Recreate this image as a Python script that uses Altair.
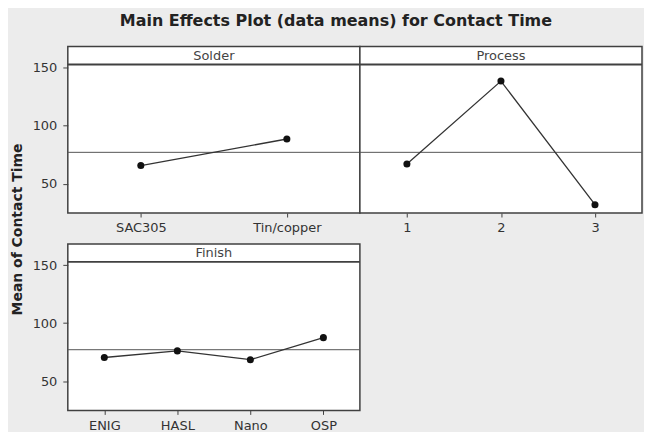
import altair as alt
import pandas as pd

title_text = "Main Effects Plot (data means) for Contact Time"
y_title = "Mean of Contact Time"

solder_levels = ["SAC305", "Tin/copper"]
solder_means = [65.7, 88.6]
process_levels = ["1", "2", "3"]
process_means = [67.1, 138.5, 32.0]
finish_levels = ["ENIG", "HASL", "Nano", "OSP"]
finish_means = [70.4, 76.1, 68.5, 87.5]
grand_mean = 77.1
y_ticks = [50, 100, 150]
y_domain = [24.8, 152.8]

FONT = "DejaVu Sans"
BORDER = "#404040"
TEXT = "#333333"
HEADER_H = 18
PLOT_H = 149


def y_enc(field, show_y, with_title):
    if show_y:
        kw = dict(values=y_ticks, tickSize=5, labelPadding=6, title=None)
        if with_title:
            kw.update(title=y_title, titleX=-43, titleY=183, titleAngle=270,
                      titleAlign="center", titleBaseline="bottom",
                      titleFont=FONT, titleFontSize=14, titleFontWeight="bold",
                      titleColor="#222222")
        axis = alt.Axis(**kw)
    else:
        axis = None
    return alt.Y(field, scale=alt.Scale(domain=y_domain, nice=False, zero=False,
                                        range=[HEADER_H + PLOT_H, HEADER_H]),
                 axis=axis)


def panel(name, levels, means, width, show_y, with_title=False):
    df = pd.DataFrame({"level": levels, "mean": means})
    hdf = pd.DataFrame({"label": [name]})
    header_line = alt.Chart(hdf).mark_rule(color=BORDER, strokeWidth=1.8).encode(
        x=alt.value(0), x2=alt.value(width), y=alt.value(HEADER_H)
    )
    header_text = alt.Chart(hdf).mark_text(
        font=FONT, fontSize=13, color="#444444", baseline="middle"
    ).encode(text="label:N", x=alt.value(width / 2), y=alt.value(HEADER_H / 2))

    x = alt.X("level:N", sort=levels,
              scale=alt.Scale(type="point", padding=0.5),
              axis=alt.Axis(title=None, labelAngle=0, tickSize=4, labelPadding=5))
    base = alt.Chart(df).encode(x=x, y=y_enc("mean:Q", show_y, with_title))
    rule = alt.Chart(pd.DataFrame({"g": [grand_mean]})).mark_rule(
        color="#555555", strokeWidth=1
    ).encode(y=y_enc("g:Q", show_y, with_title))
    line = base.mark_line(color="#333333", strokeWidth=1.3)
    pts = base.mark_circle(color="#111111", size=50, opacity=1)
    return alt.layer(rule, line, pts, header_line, header_text).properties(
        width=width, height=HEADER_H + PLOT_H
    )


solder = panel("Solder", solder_levels, solder_means, 293, True, with_title=True)
process = panel("Process", process_levels, process_means, 283, False)
finish = panel("Finish", finish_levels, finish_means, 293, True)

chart = alt.concat(
    solder, process, finish, columns=2, spacing={"row": 31, "column": 0}, bounds="flush"
).resolve_scale(
    x="independent", y="independent"
).properties(
    title=alt.TitleParams(title_text, font=FONT, fontSize=16, fontWeight="bold",
                          color="#222222", anchor="middle", dx=9, offset=17),
    background="#ececec",
    padding={"left": 2, "top": 4, "right": 0, "bottom": 0},
).configure_view(
    stroke=BORDER, strokeWidth=1.5, fill="white"
).configure_axis(
    labelFont=FONT, labelFontSize=13, labelColor=TEXT,
    tickColor=BORDER, tickWidth=1, domain=False, grid=False
)

chart.save("out.html", embed_options={"renderer": "svg", "actions": False})
